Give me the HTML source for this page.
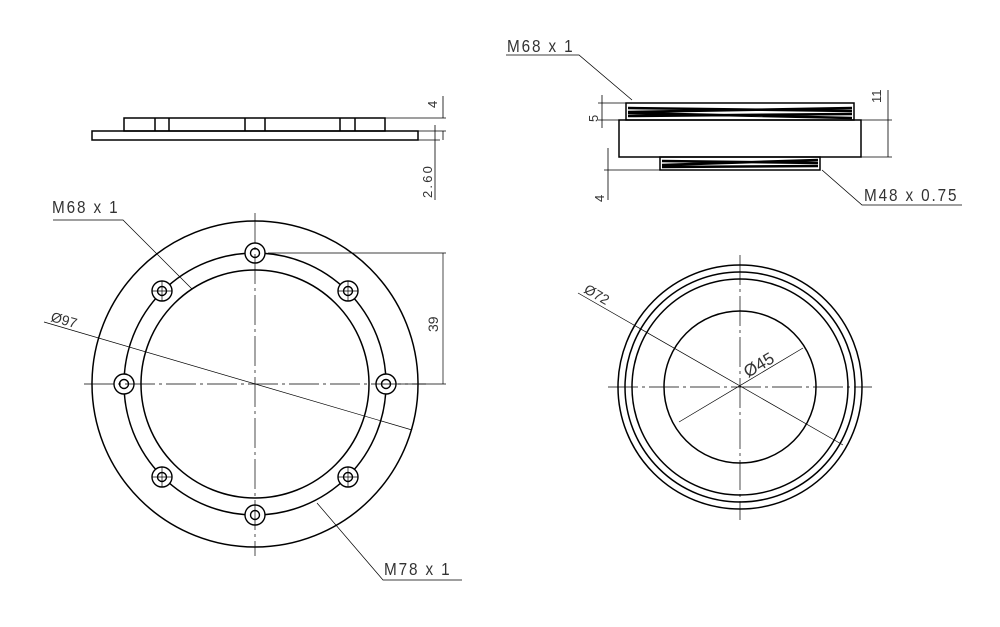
<!DOCTYPE html>
<html><head><meta charset="utf-8"><style>body{margin:0;background:#fff}svg{display:block}text{font-family:"Liberation Sans",sans-serif;fill:#333}.lb{letter-spacing:2.2px}</style></head><body>
<svg width="1000" height="627" viewBox="0 0 1000 627" xmlns="http://www.w3.org/2000/svg">
<g fill="none" stroke="#000" stroke-width="1.5">
<rect x="92" y="131" width="326" height="9"/>
<rect x="124" y="118" width="261" height="13"/>
<path d="M155 118V131M169 118V131M245 118V131M265 118V131M340 118V131M355 118V131"/>
</g>
<g fill="none" stroke="#000" stroke-width="0.8">
<path d="M385 118H446M418 131H446M418 140H440M443 96V118M443 131V140M435 125V200"/>
</g>
<text font-size="13" transform="translate(437,108) rotate(-90)">4</text>
<text font-size="13" class="lb" transform="translate(432,198) rotate(-90)">2.60</text>

<g fill="none" stroke="#000" stroke-width="1.5">
<rect x="619" y="120" width="242" height="37"/>
<rect x="626" y="103" width="228" height="17"/>
<rect x="660" y="157" width="160" height="13"/>
</g>
<g stroke="#000" stroke-width="2.5">
<path d="M628 108L852 111M628 112L852 108M628 116L852 114M628 113L852 118M662 161L818 163M662 165L818 160M662 167L818 166"/>
</g>
<g fill="none" stroke="#000" stroke-width="0.8">
<path d="M506 55H579L632 100M822 170L862 205H962M861 120H892M861 157H892M888 90V157M598 103H626M598 120H619M602 95V128M604 170H660M608 148V200"/>
</g>
<text class="lb" font-size="18" transform="translate(507,52) scale(0.85,1)">M68 x 1</text>
<text class="lb" font-size="18" transform="translate(864,201) scale(0.85,1)">M48 x 0.75</text>
<text font-size="13" transform="translate(881,103) rotate(-90)">11</text>
<text font-size="13" transform="translate(598,122) rotate(-90)">5</text>
<text font-size="13" transform="translate(604,202) rotate(-90)">4</text>

<g fill="none" stroke="#000" stroke-width="1.5">
<circle cx="255" cy="384" r="163"/>
<circle cx="255" cy="384" r="131"/>
<circle cx="255" cy="384" r="114"/>
</g>
<g fill="#fff" stroke="#000" stroke-width="1.4">
<circle cx="255" cy="253" r="10"/><circle cx="255" cy="253" r="4.5"/>
<circle cx="255" cy="515" r="10"/><circle cx="255" cy="515" r="4.5"/>
<circle cx="124" cy="384" r="10"/><circle cx="124" cy="384" r="4.5"/>
<circle cx="386" cy="384" r="10"/><circle cx="386" cy="384" r="4.5"/>
<circle cx="162" cy="291" r="10"/><circle cx="162" cy="291" r="4.5"/>
<circle cx="348" cy="291" r="10"/><circle cx="348" cy="291" r="4.5"/>
<circle cx="162" cy="477" r="10"/><circle cx="162" cy="477" r="4.5"/>
<circle cx="348" cy="477" r="10"/><circle cx="348" cy="477" r="4.5"/>
</g>
<g fill="none" stroke="#000" stroke-width="0.7">
<path d="M84 384H426M255 213V556" stroke-dasharray="30 4 3 4"/>
<path d="M162 281V301M152 291H172M348 281V301M338 291H358M162 467V487M152 477H172M348 467V487M338 477H358"/>
<path d="M44 322L412 430M53 220H123L192 289M317 503L383 580H462M268 253H446M398 384H446M443 253V384"/>
</g>
<text class="lb" font-size="18" transform="translate(52,213) scale(0.85,1)">M68 x 1</text>
<text class="lb" font-size="18" transform="translate(384,575) scale(0.85,1)">M78 x 1</text>
<text font-size="14" fill="#555" transform="translate(50,321) rotate(16)">Ø97</text>
<text font-size="14" transform="translate(438,332) rotate(-90)">39</text>

<g fill="none" stroke="#000" stroke-width="1.5">
<circle cx="740" cy="387" r="122"/>
<circle cx="740" cy="387" r="115"/>
<circle cx="740" cy="387" r="108"/>
<circle cx="740" cy="387" r="76"/>
</g>
<g fill="none" stroke="#000" stroke-width="0.7">
<path d="M608 387H872M740 255V520" stroke-dasharray="30 4 3 4"/>
<path d="M578 293L843 445M679 422L803 348"/>
</g>
<text font-size="14" fill="#555" transform="translate(583,292) rotate(30)">Ø72</text>
<text font-size="17" transform="translate(748,378) rotate(-31)">Ø45</text>
</svg>
</body></html>
